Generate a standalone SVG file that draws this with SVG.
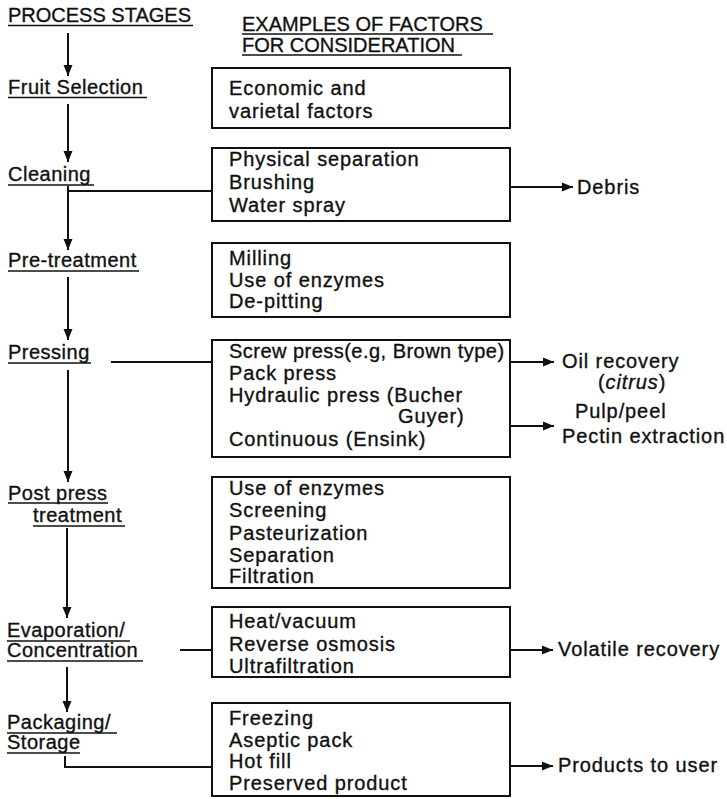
<svg xmlns="http://www.w3.org/2000/svg" width="727" height="799" viewBox="0 0 727 799">
<style>
text{font-family:"Liberation Sans",Arial,sans-serif;font-size:20px;fill:#111;stroke:#111;stroke-width:0.35;letter-spacing:0.9px}
.h{letter-spacing:0px}
.s{letter-spacing:0.5px}
.box{fill:none;stroke:#111;stroke-width:2}
.ul{stroke:#111;stroke-width:1.6}
.c{fill:none;stroke:#111;stroke-width:2}
</style>
<defs>
<marker id="ah" markerUnits="userSpaceOnUse" markerWidth="12" markerHeight="10" refX="11" refY="5" orient="auto">
<path d="M0,0.5 L11,5 L0,9.5 Z" fill="#111"/>
</marker>
</defs>
<g id="headers">
<text class="h" x="8" y="22">PROCESS STAGES</text>
<line class="ul" x1="8" y1="25.5" x2="193" y2="25.5"/>
<text class="h" x="242" y="31">EXAMPLES OF FACTORS</text>
<line class="ul" x1="242" y1="34" x2="493" y2="34"/>
<text class="h" x="242" y="52">FOR CONSIDERATION</text>
<line class="ul" x1="242" y1="55" x2="462" y2="55"/>
</g>
<g id="stage-fruit"><text class="s" x="8" y="94">Fruit Selection</text><line class="ul" x1="8" y1="97.5" x2="147" y2="97.5"/></g>
<g id="stage-cleaning"><text class="s" x="8" y="181">Cleaning</text><line class="ul" x1="8" y1="185" x2="94" y2="185"/></g>
<g id="stage-pretreatment"><text class="s" x="8" y="267">Pre-treatment</text><line class="ul" x1="8" y1="271" x2="139" y2="271"/></g>
<g id="stage-pressing"><text class="s" x="8" y="359">Pressing</text><line class="ul" x1="8" y1="363" x2="91" y2="363"/></g>
<g id="stage-postpress"><text class="s" x="8" y="500">Post press</text><line class="ul" x1="8" y1="503" x2="108" y2="503"/><text class="s" x="33" y="522">treatment</text><line class="ul" x1="33" y1="526" x2="125" y2="526"/></g>
<g id="stage-evaporation"><text class="s" x="7" y="637">Evaporation/</text><line class="ul" x1="7" y1="641" x2="130" y2="641"/><text class="s" x="7" y="657">Concentration</text><line class="ul" x1="7" y1="661" x2="143" y2="661"/></g>
<g id="stage-packaging"><text class="s" x="7" y="729">Packaging/</text><line class="ul" x1="7" y1="733" x2="117" y2="733"/><text class="s" x="7" y="749">Storage</text><line class="ul" x1="7" y1="753" x2="80" y2="753"/></g>
<g id="box-fruit"><rect class="box" x="212" y="68" width="298" height="60"/><text x="229" y="95">Economic and</text><text x="229" y="118">varietal factors</text></g>
<g id="box-cleaning"><rect class="box" x="212" y="148" width="298" height="73"/><text x="229" y="166">Physical separation</text><text x="229" y="189">Brushing</text><text x="229" y="212">Water spray</text></g>
<g id="box-pretreatment"><rect class="box" x="212" y="243" width="298" height="74"/><text x="229" y="265">Milling</text><text x="229" y="287">Use of enzymes</text><text x="229" y="308">De-pitting</text></g>
<g id="box-pressing"><rect class="box" x="212" y="340" width="298" height="117"/><text x="229" y="358" textLength="276">Screw press(e.g, Brown type)</text><text x="229" y="380">Pack press</text><text x="229" y="402">Hydraulic press (Bucher</text><text x="398" y="423">Guyer)</text><text x="229" y="446">Continuous (Ensink)</text></g>
<g id="box-postpress"><rect class="box" x="212" y="477" width="298" height="111"/><text x="229" y="495">Use of enzymes</text><text x="229" y="517">Screening</text><text x="229" y="540">Pasteurization</text><text x="229" y="562">Separation</text><text x="229" y="583">Filtration</text></g>
<g id="box-evaporation"><rect class="box" x="212" y="607" width="298" height="70"/><text x="229" y="628">Heat/vacuum</text><text x="229" y="651">Reverse osmosis</text><text x="229" y="673">Ultrafiltration</text></g>
<g id="box-packaging"><rect class="box" x="212" y="703" width="298" height="93"/><text x="229" y="725">Freezing</text><text x="229" y="747">Aseptic pack</text><text x="229" y="768">Hot fill</text><text x="229" y="790">Preserved product</text></g>
<g id="out-debris"><text x="577" y="194">Debris</text></g>
<g id="out-oil"><text x="562" y="368">Oil recovery</text><text x="598" y="389">(<tspan font-style="italic">citrus</tspan>)</text></g>
<g id="out-pulp"><text x="575" y="418">Pulp/peel</text><text x="562" y="443">Pectin extraction</text></g>
<g id="out-volatile"><text x="558" y="656">Volatile recovery</text></g>
<g id="out-products"><text x="558" y="772">Products to user</text></g>
<g id="connectors">
<line class="c" x1="68" y1="33" x2="68" y2="76" marker-end="url(#ah)"/>
<line class="c" x1="68" y1="104" x2="68" y2="162" marker-end="url(#ah)"/>
<line class="c" x1="68" y1="186" x2="68" y2="250" marker-end="url(#ah)"/>
<line class="c" x1="68" y1="191" x2="212" y2="191"/>
<line class="c" x1="68" y1="277" x2="68" y2="340" marker-end="url(#ah)"/>
<line class="c" x1="68" y1="370" x2="68" y2="482" marker-end="url(#ah)"/>
<line class="c" x1="111" y1="362" x2="212" y2="362"/>
<line class="c" x1="67" y1="528" x2="67" y2="618" marker-end="url(#ah)"/>
<line class="c" x1="180" y1="650" x2="212" y2="650"/>
<line class="c" x1="67" y1="667" x2="67" y2="712" marker-end="url(#ah)"/>
<path class="c" d="M65,756 V767 H212"/>
<line class="c" x1="510" y1="187" x2="573" y2="187" marker-end="url(#ah)"/>
<line class="c" x1="510" y1="362" x2="554" y2="362" marker-end="url(#ah)"/>
<line class="c" x1="510" y1="426" x2="554" y2="426" marker-end="url(#ah)"/>
<line class="c" x1="510" y1="650" x2="553" y2="650" marker-end="url(#ah)"/>
<line class="c" x1="510" y1="766" x2="553" y2="766" marker-end="url(#ah)"/>
</g>
</svg>
